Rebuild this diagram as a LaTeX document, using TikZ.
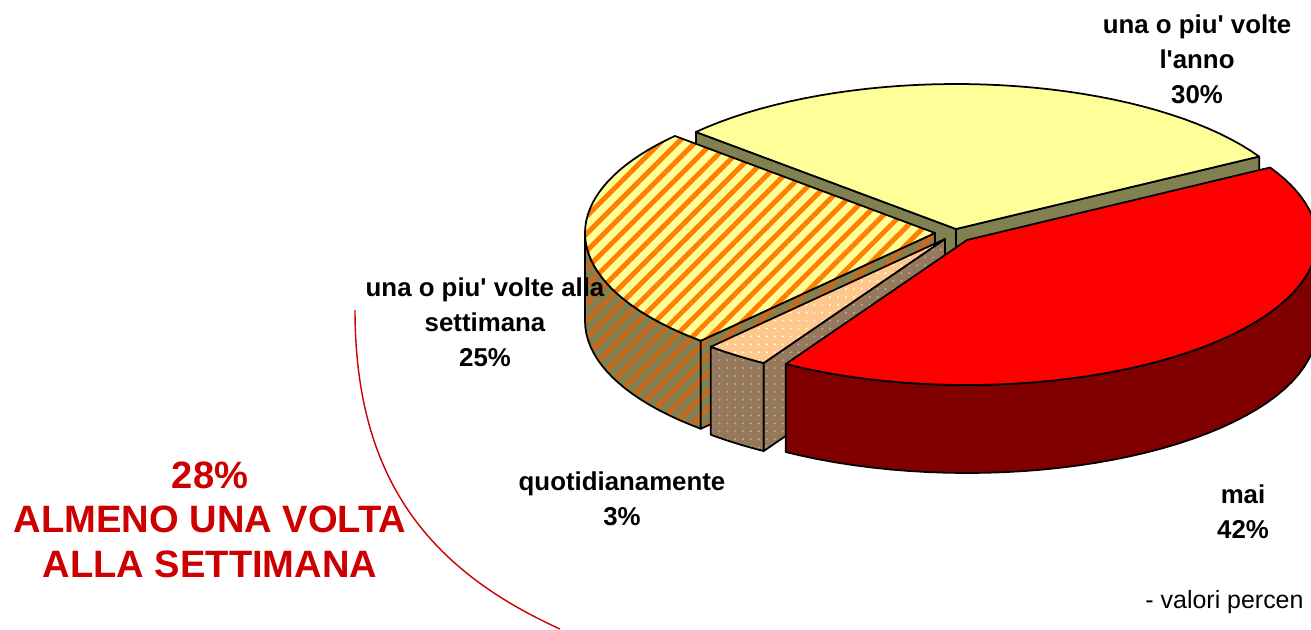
\documentclass[tikz,border=0pt]{standalone}
\usepackage{fontspec}
\setmainfont{Liberation Sans}
\usetikzlibrary{patterns.meta}

\definecolor{paleyellow}{RGB}{255,255,153}
\definecolor{sideolive}{RGB}{128,128,80}
\definecolor{stripeorange}{RGB}{255,128,0}
\definecolor{stripebrown}{RGB}{200,105,30}
\definecolor{dotpeach}{RGB}{255,200,140}
\definecolor{dotbrown}{RGB}{150,120,90}
\definecolor{piered}{RGB}{255,0,0}
\definecolor{piedark}{RGB}{128,0,0}
\definecolor{labelred}{RGB}{204,0,0}

\newcommand{\rimx}{350}
\newcommand{\rimy}{145}
\newcommand{\rimh}{88}
\newcommand{\apos}{\textquotesingle}

\begin{document}
\begin{tikzpicture}[x=0.02cm,y=-0.02cm]

\tikzset{rim/.style = {draw=black,line width=1pt,line join=round}}
\tikzset{yellowtop/.style = {rim,fill=paleyellow}}
\tikzset{yellowside/.style = {rim,fill=sideolive}}
\tikzset{redtop/.style = {rim,fill=piered}}
\tikzset{redside/.style = {rim,fill=piedark}}
\tikzset{stripetop/.style = {rim,preaction={fill=paleyellow},pattern={Lines[angle=45,distance=7pt,line width=2.8pt]},pattern color=stripeorange}}
\tikzset{stripeside/.style = {rim,preaction={fill=sideolive},pattern={Lines[angle=45,distance=7pt,line width=2.8pt]},pattern color=stripebrown}}
\tikzset{dottop/.style = {rim,preaction={fill=dotpeach},pattern={Dots[radius=0.6pt,distance=4.5pt]},pattern color=white}}
\tikzset{dotside/.style = {rim,preaction={fill=dotbrown},pattern={Dots[radius=0.6pt,distance=4.5pt]},pattern color=gray!60}}
\tikzset{lab/.style = {font=\bfseries\fontsize{14.7}{19.8}\selectfont,align=center,inner sep=0pt}}
\tikzset{redlab/.style = {font=\bfseries\fontsize{21.7}{25.2}\selectfont,align=center,inner sep=0pt,text=labelred}}

\useasboundingbox (0,0) rectangle (1311,629);

%yellow slice
\begin{scope}[shift={(956,229)}]
\path[yellowside] (0,0) -- ({\rimx*cos(30)},{-\rimy*sin(30)}) -- ++(0,\rimh) -- (0,\rimh) -- cycle;
\path[yellowside] (0,0) -- ({\rimx*cos(138)},{-\rimy*sin(138)}) -- ++(0,\rimh) -- (0,\rimh) -- cycle;
\path[yellowtop] (0,0) -- plot[domain=30:138,samples=40] ({\rimx*cos(\x)},{-\rimy*sin(\x)}) -- cycle;
\end{scope}

%striped slice
\begin{scope}[shift={(935,233)}]
\path[stripeside] plot[domain=180:228,samples=20] ({\rimx*cos(\x)},{-\rimy*sin(\x)}) -- plot[domain=228:180,samples=20] ({\rimx*cos(\x)},{\rimh-\rimy*sin(\x)}) -- cycle;
\path[stripeside] (0,0) -- ({\rimx*cos(228)},{-\rimy*sin(228)}) -- ++(0,\rimh) -- (0,\rimh) -- cycle;
\path[stripetop] (0,0) -- plot[domain=138:228,samples=40] ({\rimx*cos(\x)},{-\rimy*sin(\x)}) -- cycle;
\end{scope}

%dotted slice
\begin{scope}[shift={(945,239)}]
\path[dotside] plot[domain=228:238.8,samples=8] ({\rimx*cos(\x)},{-\rimy*sin(\x)}) -- plot[domain=238.8:228,samples=8] ({\rimx*cos(\x)},{\rimh-\rimy*sin(\x)}) -- cycle;
\path[dotside] (0,0) -- ({\rimx*cos(238.8)},{-\rimy*sin(238.8)}) -- ++(0,\rimh) -- (0,\rimh) -- cycle;
\path[dottop] (0,0) -- plot[domain=228:238.8,samples=8] ({\rimx*cos(\x)},{-\rimy*sin(\x)}) -- cycle;
\end{scope}

%red slice
\begin{scope}[shift={(967,240)}]
\path[redside] plot[domain=238.8:360,samples=40] ({\rimx*cos(\x)},{-\rimy*sin(\x)}) -- plot[domain=360:238.8,samples=40] ({\rimx*cos(\x)},{\rimh-\rimy*sin(\x)}) -- cycle;
\path[redtop] (0,0) -- plot[domain=238.8:390,samples=60] ({\rimx*cos(\x)},{-\rimy*sin(\x)}) -- cycle;
\end{scope}

%labels (anchor base = last line)
\node[lab,anchor=base] (yearlab) at (1197,103) {una o piu\apos{} volte\\l\apos{}anno\\30\%};
\node[lab,anchor=base] (weeklab) at (485,366) {una o piu\apos{} volte alla\\settimana\\25\%};
\node[lab,anchor=base] (daylab) at (622,525) {quotidianamente\\3\%};
\node[lab,anchor=base] (neverlab) at (1243,538) {mai\\42\%};
\node[redlab,anchor=base] (totallab) at (210,577) {28\%\\ALMENO UNA VOLTA\\ALLA SETTIMANA};
\node[font=\fontsize{14.2}{17}\selectfont,anchor=base west,inner sep=0pt] (notelab) at (1145,608) {-\hspace{4pt}valori percen};

%red arc
\coordinate (arcstart) at (355,310);
\coordinate (arcend) at (560,629);
\draw[labelred,line width=0.8pt] (arcstart) .. controls (355,480) and (430,570) .. (arcend);

\end{tikzpicture}
\end{document}
